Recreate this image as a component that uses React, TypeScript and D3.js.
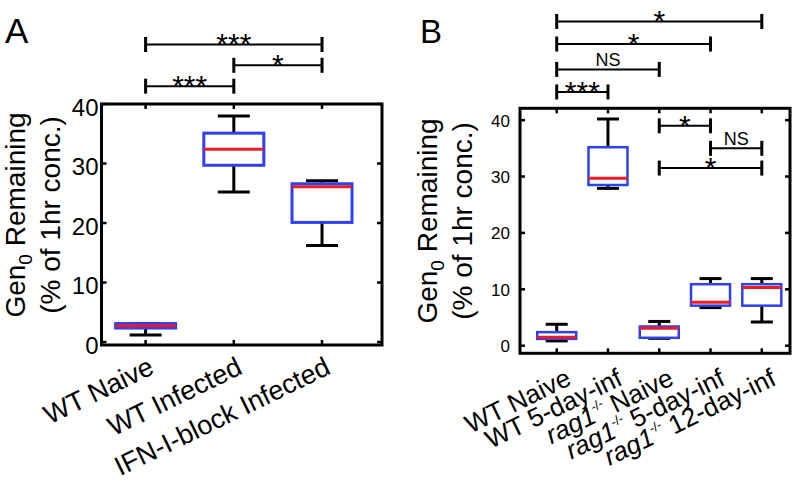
import * as d3 from 'd3';
import React from 'react';

// Panel A: Gen0 remaining, WT vs IFN-I-block
const catsA = ['WT Naive', 'WT Infected', 'IFN-I-block Infected'];
const lowA = [1.2, 25.2, 16.2];
const q1A = [2.35, 29.7, 20.1];
const medA = [2.75, 32.4, 26.1];
const q3A = [3.1, 35.1, 26.6];
const highA = [3.1, 38.0, 27.1];
const ticksA = [0, 10, 20, 30, 40];
// [from, to, level (data units), label]
const sigA: [number, number, number, string][] = [
  [0, 2, 50, '***'],
  [1, 2, 46.5, '*'],
  [0, 1, 43, '***'],
];

// Panel B: rag1-/- timecourse
const catsB = ['WT Naive', 'WT 5-day-inf', 'rag1-/- Naive', 'rag1-/- 5-day-inf', 'rag1-/- 12-day-inf'];
const lowB = [0.85, 27.9, 1.3, 6.75, 4.2];
const q1B = [1.2, 28.5, 1.4, 7.1, 7.1];
const medB = [1.5, 29.7, 3.1, 7.7, 10.3];
const q3B = [2.4, 35.2, 3.4, 10.9, 10.9];
const highB = [3.8, 40.2, 4.3, 11.9, 11.9];
const ticksB = [0, 10, 20, 30, 40];
const sigB: [number, number, number, string][] = [
  [0, 4, 57.5, '*'],
  [0, 3, 53.5, '*'],
  [0, 2, 49, 'NS'],
  [0, 1, 45, '***'],
  [2, 3, 39, '*'],
  [3, 4, 35, 'NS'],
  [2, 4, 31.5, '*'],
];

const FONT = '"Liberation Sans", Arial, Helvetica, sans-serif';
const BLUE = '#2f41ee';
const RED = '#ec1c24';
const ANGLE = -26;

interface PanelProps {
  letter: string;
  letterX: number;
  letterSize: number;
  cats: string[];
  low: number[];
  q1: number[];
  med: number[];
  q3: number[];
  high: number[];
  ticks: number[];
  sig: [number, number, number, string][];
  xDomain: [number, number];
  xRange: [number, number];
  yDomain: [number, number];
  yRange: [number, number];
  boxW: number;
  capW: number;
  boxStroke: number;
  tickFont: number;
  tickGap: number;
  tickDy: number;
  ylabX: [number, number];
  ylabY: number;
  xlabDx: number;
  xlabY: number;
  xlabFont: number;
}

function XLabel({ text, x, y, size }: { text: string; x: number; y: number; size: number }) {
  const tr = `translate(${x},${y}) rotate(${ANGLE})`;
  if (text.startsWith('rag1-/-')) {
    const rest = text.slice('rag1-/-'.length);
    return (
      <text transform={tr} textAnchor="end" fontSize={size} fontFamily={FONT}>
        <tspan fontStyle="italic">rag1</tspan>
        <tspan fontSize={13} dy={-11}>-/-</tspan>
        <tspan dy={11}>{rest}</tspan>
      </text>
    );
  }
  return (
    <text transform={tr} textAnchor="end" fontSize={size} fontFamily={FONT}>
      {text}
    </text>
  );
}

function Panel(p: PanelProps) {
  const x = d3.scaleLinear().domain(p.xDomain).range(p.xRange);
  const y = d3.scaleLinear().domain(p.yDomain).range(p.yRange);
  const idx = p.cats.map((_, i) => i + 1);
  const [x0, x1] = p.xRange;
  const [yb, yt] = p.yRange;
  const tl = 5;

  return (
    <g>
      <text x={p.letterX} y={43} fontSize={p.letterSize} fontFamily={FONT}>{p.letter}</text>

      {/* y label */}
      <g fontFamily={FONT} fontSize={28} textAnchor="middle">
        <text transform={`translate(${p.ylabX[0]},${p.ylabY}) rotate(-90)`}>
          Gen<tspan fontSize={19} dy={7}>0</tspan><tspan dy={-7}> Remaining</tspan>
        </text>
        <text transform={`translate(${p.ylabX[1]},${p.ylabY}) rotate(-90)`}>(% of 1hr conc.)</text>
      </g>

      {/* y tick labels and ticks */}
      {p.ticks.map(t => (
        <g key={t}>
          <text x={x0 - p.tickGap} y={y(t) + p.tickDy} textAnchor="end" dominantBaseline="central"
            fontSize={p.tickFont} fontFamily={FONT}>{t}</text>
          <line x1={x0} x2={x0 + tl} y1={y(t)} y2={y(t)} stroke="#000" strokeWidth={2.5} />
          <line x1={x1} x2={x1 - tl} y1={y(t)} y2={y(t)} stroke="#000" strokeWidth={2.5} />
        </g>
      ))}
      {idx.map(i => (
        <g key={i}>
          <line x1={x(i)} x2={x(i)} y1={yt} y2={yt + tl} stroke="#000" strokeWidth={2.5} />
          <line x1={x(i)} x2={x(i)} y1={yb} y2={yb - tl} stroke="#000" strokeWidth={2.5} />
        </g>
      ))}

      {/* boxes */}
      {idx.map((i, k) => {
        const cx = x(i);
        return (
          <g key={'b' + i}>
            <line x1={cx} x2={cx} y1={y(p.q3[k])} y2={y(p.high[k])} stroke="#000" strokeWidth={3} />
            <line x1={cx} x2={cx} y1={y(p.q1[k])} y2={y(p.low[k])} stroke="#000" strokeWidth={3} />
            <line x1={cx - p.capW / 2} x2={cx + p.capW / 2} y1={y(p.high[k])} y2={y(p.high[k])} stroke="#000" strokeWidth={3} />
            <line x1={cx - p.capW / 2} x2={cx + p.capW / 2} y1={y(p.low[k])} y2={y(p.low[k])} stroke="#000" strokeWidth={3} />
            <rect x={cx - p.boxW / 2} width={p.boxW} y={y(p.q3[k])} height={y(p.q1[k]) - y(p.q3[k])}
              fill="#fff" stroke={BLUE} strokeWidth={p.boxStroke} />
            <line x1={cx - p.boxW / 2} x2={cx + p.boxW / 2} y1={y(p.med[k])} y2={y(p.med[k])} stroke={RED} strokeWidth={3} />
          </g>
        );
      })}

      {/* frame */}
      <rect x={x0} y={yt} width={x1 - x0} height={yb - yt} fill="none" stroke="#000" strokeWidth={3} />

      {/* x labels */}
      {p.cats.map((c, k) => (
        <XLabel key={c} text={c} x={x(k + 1) + p.xlabDx} y={p.xlabY} size={p.xlabFont} />
      ))}

      {/* significance bars */}
      {p.sig.map(([a, b, lv, lab], k) => {
        const xa = x(a + 1), xb = x(b + 1), yy = y(lv);
        const star = lab !== 'NS';
        return (
          <g key={'s' + k}>
            <line x1={xa} x2={xb} y1={yy} y2={yy} stroke="#000" strokeWidth={2} />
            <line x1={xa} x2={xa} y1={yy - 7.5} y2={yy + 7.5} stroke="#000" strokeWidth={3} />
            <line x1={xb} x2={xb} y1={yy - 7.5} y2={yy + 7.5} stroke="#000" strokeWidth={3} />
            <text x={(xa + xb) / 2} y={star ? yy + 10 : yy - 3.5} textAnchor="middle"
              fontSize={star ? 30 : 18} fontFamily={FONT}>{lab}</text>
          </g>
        );
      })}
    </g>
  );
}

export default function App() {
  return (
    <svg width={796} height={490} style={{ position: 'absolute', left: 0, top: 0, background: '#fff' }}>
      <Panel letter="A" letterX={5} letterSize={35}
        cats={catsA} low={lowA} q1={q1A} med={medA} q3={q3A} high={highA} ticks={ticksA} sig={sigA}
        xDomain={[0.5, 3.68]} xRange={[101.5, 382]} yDomain={[-0.5, 40]} yRange={[345, 104]}
        boxW={60} capW={32} boxStroke={3} tickFont={24} tickGap={3} tickDy={3}
        ylabX={[25, 60]} ylabY={215} xlabDx={10} xlabY={373} xlabFont={27} />
      <Panel letter="B" letterX={420} letterSize={33}
        cats={catsB} low={lowB} q1={q1B} med={medB} q3={q3B} high={highB} ticks={ticksB} sig={sigB}
        xDomain={[0.284, 5.55]} xRange={[520, 790]} yDomain={[-1.35, 42.1]} yRange={[353.3, 108.3]}
        boxW={39} capW={22} boxStroke={2.5} tickFont={17} tickGap={10} tickDy={1}
        ylabX={[437, 472]} ylabY={221} xlabDx={16} xlabY={384} xlabFont={26} />
    </svg>
  );
}
